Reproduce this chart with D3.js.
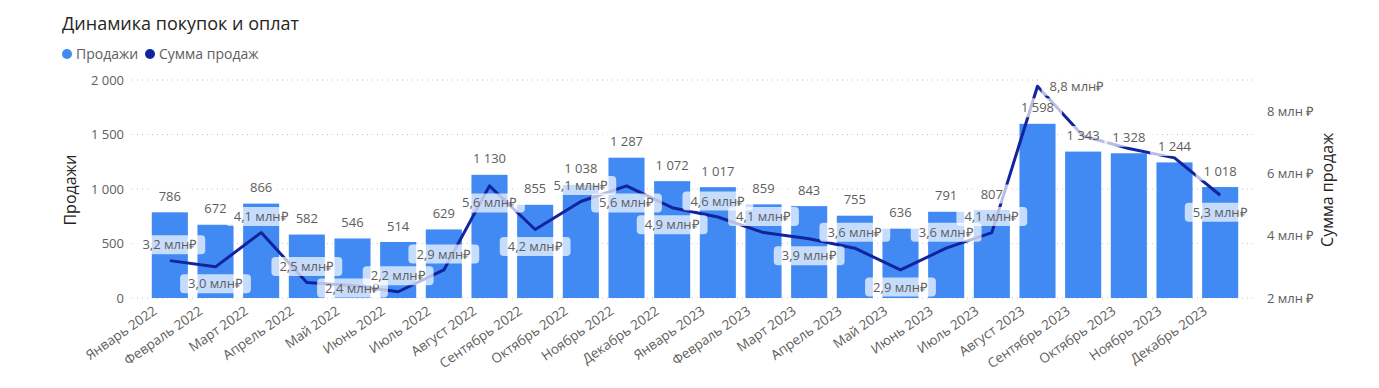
<!DOCTYPE html>
<html>
<head>
<meta charset="utf-8">
<script src="https://cdn.jsdelivr.net/npm/d3@7"></script>
<style>
  body { margin: 0; background: #fff; }
  svg text { font-family: "Segoe UI", "Open Sans", sans-serif; }
</style>
</head>
<body>
<div id="chart"></div>
<script>
// months on the x axis
const months = ["Январь 2022", "Февраль 2022", "Март 2022", "Апрель 2022", "Май 2022", "Июнь 2022",
    "Июль 2022", "Август 2022", "Сентябрь 2022", "Октябрь 2022", "Ноябрь 2022", "Декабрь 2022",
    "Январь 2023", "Февраль 2023", "Март 2023", "Апрель 2023", "Май 2023", "Июнь 2023",
    "Июль 2023", "Август 2023", "Сентябрь 2023", "Октябрь 2023", "Ноябрь 2023", "Декабрь 2023"]
// bars: number of sales
const sales = [786, 672, 866, 582, 546, 514, 629, 1130, 855, 1038, 1287, 1072,
    1017, 859, 843, 755, 636, 791, 807, 1598, 1343, 1328, 1244, 1018]
// line: sum of sales, mln rub
const salesSum = [3.2, 3.0, 4.1, 2.5, 2.4, 2.2, 2.9, 5.6, 4.2, 5.1, 5.6, 4.9,
    4.6, 4.1, 3.9, 3.6, 2.9, 3.6, 4.1, 8.8, 7.2, 6.8, 6.5, 5.3]
// where power bi put each line label
const sumLabelPlace = ["above", "below", "above", "above", "below", "above", "above", "below", "below", "above", "below", "below",
    "above", "above", "below", "above", "below", "above", "above", "right", "none", "none", "none", "below"]
const leftTicks = [0, 500, 1000, 1500, 2000]
const rightTicks = [2, 4, 6, 8]

const BAR = "#418af4"
const LINE = "#12239e"
const GREY = "#605e5c"

const ru = d3.formatLocale({ decimal: ",", thousands: "\u00a0", grouping: [3], currency: ["", ""] })
const fmtInt = ru.format(",d")
const fmtMln = ru.format(".1f")

const svg = d3.select("#chart").append("svg")
    .attr("width", 1379)
    .attr("height", 388)

const plotTop = 80, plotBottom = 298

const x = d3.scaleBand()
    .domain(months)
    .range([147, 1243])
    .paddingInner(0.21)
    .paddingOuter(0.105)
const y = d3.scaleLinear().domain([0, 2000]).range([plotBottom, plotTop])
const y2 = d3.scaleLinear().domain([2, 9]).range([plotBottom, plotTop])
const cx = m => x(m) + x.bandwidth() / 2

// title + legend
svg.append("text").attr("x", 62).attr("y", 30)
    .attr("font-size", 18).attr("fill", "#252423")
    .text("Динамика покупок и оплат")
svg.append("circle").attr("cx", 67).attr("cy", 54).attr("r", 5).attr("fill", BAR)
svg.append("text").attr("x", 76).attr("y", 59).attr("font-size", 14).attr("fill", GREY).text("Продажи")
svg.append("circle").attr("cx", 150).attr("cy", 54).attr("r", 5).attr("fill", LINE)
svg.append("text").attr("x", 159).attr("y", 59).attr("font-size", 14).attr("fill", GREY).text("Сумма продаж")

// gridlines
svg.append("g").selectAll("line")
    .data(leftTicks)
    .enter().append("line")
    .attr("x1", 132).attr("x2", 1257)
    .attr("y1", d => y(d)).attr("y2", d => y(d))
    .attr("stroke", "#c8c6c4").attr("stroke-width", 1)
    .attr("stroke-dasharray", "1,4")

// left axis
let yAxis = svg.append("g")
    .attr("transform", "translate(124,0)")
    .call(d3.axisLeft(y).tickValues(leftTicks).tickSize(0).tickPadding(0).tickFormat(fmtInt))
yAxis.select(".domain").remove()
yAxis.selectAll("text").attr("font-size", 13).attr("fill", GREY)

// right axis
let y2Axis = svg.append("g")
    .attr("transform", "translate(1267,0)")
    .call(d3.axisRight(y2).tickValues(rightTicks).tickSize(0).tickPadding(0).tickFormat(d => d + " млн ₽"))
y2Axis.select(".domain").remove()
y2Axis.selectAll("text").attr("font-size", 13).attr("fill", GREY)

// axis titles
svg.append("text")
    .attr("transform", "translate(76,190) rotate(-90)")
    .attr("text-anchor", "middle").attr("font-size", 16).attr("fill", "#252423")
    .text("Продажи")
svg.append("text")
    .attr("transform", "translate(1333,190) rotate(-90)")
    .attr("text-anchor", "middle").attr("font-size", 16).attr("fill", "#252423")
    .text("Сумма продаж")

// x axis labels
let xAxis = svg.append("g")
    .attr("transform", "translate(0," + plotBottom + ")")
    .call(d3.axisBottom(x).tickSize(0).tickPadding(0))
xAxis.select(".domain").remove()
xAxis.selectAll("text")
    .attr("font-size", 13.5)
    .attr("fill", GREY)
    .attr("dy", 0)
    .attr("transform", "translate(-12,15) rotate(-35)")
    .style("text-anchor", "end")

// bars
svg.append("g").selectAll("rect")
    .data(months)
    .enter().append("rect")
    .attr("x", d => x(d))
    .attr("y", (d, i) => y(sales[i]))
    .attr("width", x.bandwidth())
    .attr("height", (d, i) => plotBottom - y(sales[i]))
    .attr("fill", BAR)

// line
const line = d3.line()
    .x((d, i) => cx(months[i]))
    .y(d => y2(d))
svg.append("path")
    .datum(salesSum)
    .attr("d", line)
    .attr("fill", "none")
    .attr("stroke", LINE)
    .attr("stroke-width", 3)
    .attr("stroke-linejoin", "round")

// label with a see-through box behind it
function boxLabel(g, text, px, py, anchor) {
    let lbl = g.append("g")
    let rect = lbl.append("rect")
    let t = lbl.append("text")
        .attr("x", px).attr("y", py).attr("dy", "0.35em")
        .attr("text-anchor", anchor)
        .attr("font-size", 13).attr("fill", GREY)
        .text(text)
    let w = t.node().getComputedTextLength()
    let left = anchor === "start" ? px : px - w / 2
    rect.attr("x", left - 8).attr("y", py - 9.5)
        .attr("width", w + 16).attr("height", 19)
        .attr("rx", 4)
        .attr("fill", "#fff").attr("fill-opacity", 0.7)
}

let labels = svg.append("g")

// bar values
months.forEach((m, i) => {
    boxLabel(labels, fmtInt(sales[i]), cx(m), y(sales[i]) - 16, "middle")
})

// line values
salesSum.forEach((v, i) => {
    let place = sumLabelPlace[i]
    if (place === "none") return
    let px = cx(months[i]), py = y2(v)
    let text = fmtMln(v) + " млн₽"
    if (place === "right") {
        boxLabel(labels, text, px + 12, py, "start")
        return
    }
    let ly = place === "above" ? py - 16 : py + 17
    ly = Math.max(plotTop + 9.5, Math.min(plotBottom - 10, ly))
    boxLabel(labels, text, px, ly, "middle")
})
</script>
</body>
</html>
